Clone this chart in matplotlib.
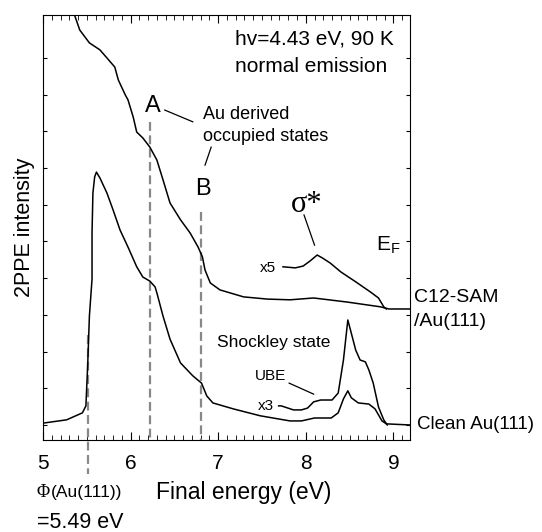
import matplotlib
matplotlib.use("Agg")
import matplotlib.pyplot as plt
from matplotlib.ticker import MultipleLocator

plt.rcParams['font.family'] = ['Liberation Sans', 'DejaVu Sans']

# C12-SAM/Au(111) spectrum
sam_x = [5.33, 5.36, 5.42, 5.53, 5.65, 5.73, 5.82, 5.86, 5.94, 5.97, 6.03, 6.07, 6.14,
         6.22, 6.30, 6.37, 6.45, 6.57, 6.68, 6.77, 6.82, 6.85, 6.91, 7.02, 7.29, 7.56,
         7.82, 8.09, 8.47, 8.85, 8.95, 9.19]
sam_y = [11.5, 11.17, 10.76, 10.41, 10.22, 10.00, 9.75, 9.40, 8.99, 8.86, 8.39, 7.98, 7.82,
         7.57, 7.22, 6.68, 6.05, 5.59, 5.23, 4.85, 4.58, 4.22, 3.87, 3.68, 3.49, 3.43,
         3.41, 3.46, 3.35, 3.22, 3.16, 3.16]

# x5 magnified part of SAM spectrum
x5_x = [7.74, 7.88, 7.97, 8.05, 8.13, 8.19, 8.28, 8.40, 8.57, 8.74, 8.83, 8.89, 8.92]
x5_y = [4.31, 4.28, 4.33, 4.47, 4.63, 4.55, 4.41, 4.17, 3.90, 3.62, 3.46, 3.22, 3.16]

# Clean Au(111) spectrum
au_x = [5.00, 5.27, 5.45, 5.49, 5.51, 5.53, 5.56, 5.56, 5.57, 5.59, 5.61, 5.65, 5.73,
        5.80, 5.88, 5.97, 6.07, 6.14, 6.22, 6.28, 6.30, 6.37, 6.45, 6.57, 6.71, 6.81,
        6.87, 6.94, 7.17, 7.48, 7.82, 7.95, 8.10, 8.29, 8.37, 8.43, 8.48, 8.52, 8.60,
        8.72, 8.79, 8.87, 8.92, 9.19]
au_y = [0.05, 0.14, 0.33, 0.52, 1.61, 2.97, 3.98, 5.23, 6.32, 6.76, 6.89, 6.73, 6.32,
        5.86, 5.31, 4.85, 4.31, 4.03, 3.92, 3.76, 3.60, 2.97, 2.34, 1.69, 1.34, 1.14,
        0.79, 0.60, 0.44, 0.25, 0.11, 0.11, 0.19, 0.19, 0.33, 0.71, 0.93, 0.74, 0.60,
        0.57, 0.44, 0.11, 0.03, 0.0]

# x3 magnified part of Au spectrum
x3_x = [7.69, 7.72, 7.86, 7.95, 8.02, 8.09, 8.17, 8.30, 8.37, 8.43, 8.48, 8.51, 8.57,
        8.62, 8.68, 8.72, 8.77, 8.83, 8.89, 8.93]
x3_y = [0.52, 0.52, 0.41, 0.41, 0.46, 0.63, 0.68, 0.68, 0.87, 1.77, 2.86, 2.59, 2.04,
        1.77, 1.72, 1.50, 1.14, 0.49, 0.14, 0.0]

# marker lines: (x, y top, y bottom)
marks = [(5.51, 2.45, -1.34), (6.22, 8.26, -0.41), (6.80, 5.80, -0.41)]

fig = plt.figure(figsize=(5.42, 5.32), dpi=100)
ax = fig.add_axes([0.0793, 0.1729, 0.6772, 0.7989])

for xm, yt, yb in marks:
    ax.plot([xm, xm], [yt, yb], color='#888888', lw=1.6, dashes=(4, 2), clip_on=False)

ax.plot(sam_x, sam_y, color='black', lw=1.1)
ax.plot(x5_x, x5_y, color='black', lw=1.1)
ax.plot(au_x, au_y, color='black', lw=1.1)
ax.plot(x3_x, x3_y, color='black', lw=1.1)

ax.set_xlim(5, 9.19)
ax.set_ylim(-0.41, 11.17)
ax.xaxis.set_major_locator(MultipleLocator(1))
ax.xaxis.set_minor_locator(MultipleLocator(0.1))
ax.set_yticks(range(0, 11))
ax.set_yticklabels([])
ax.tick_params(axis='both', which='both', direction='in', top=True, right=True)
ax.tick_params(axis='x', which='major', length=6, labelsize=15, pad=10)
ax.tick_params(axis='x', which='minor', length=3.5)
ax.tick_params(axis='y', which='major', length=3)
ax.set_ylabel('2PPE intensity', fontsize=15.5, labelpad=2)

# annotations
ax.text(7.195, 10.52, 'hv=4.43 eV, 90 K', fontsize=15, va='center')
ax.text(7.195, 9.78, 'normal emission', fontsize=15, va='center')
ax.text(6.256, 8.69, 'A', fontsize=17, ha='center', va='center')
ax.plot([6.39, 6.71], [8.58, 8.26], color='black', lw=0.9)
ax.text(6.83, 8.45, 'Au derived', fontsize=13, va='center')
ax.text(6.83, 7.85, 'occupied states', fontsize=13, va='center')
ax.plot([6.85, 6.92], [7.08, 7.57], color='black', lw=0.9)
ax.text(6.83, 6.43, 'B', fontsize=17, ha='center', va='center')
ax.text(8.005, 6.0, 'σ*', fontsize=22, ha='center', va='center',
        family=['Liberation Serif', 'DejaVu Serif'])
ax.plot([7.98, 8.10], [5.72, 4.90], color='black', lw=0.9)
ax.text(8.807, 4.90, r'E$_\mathregular{F}$', fontsize=15, va='center')
ax.text(7.48, 4.28, 'x5', fontsize=11, va='center')
ax.text(6.987, 2.26, 'Shockley state', fontsize=12.5, va='center')
ax.text(7.42, 1.34, 'UBE', fontsize=11, va='center')
ax.plot([7.81, 8.09], [1.14, 0.84], color='black', lw=0.9)
ax.text(7.457, 0.52, 'x3', fontsize=11, va='center')

ax.text(9.24, 3.46, 'C12-SAM', fontsize=14, va='center', clip_on=False)
ax.text(9.24, 2.83, '/Au(111)', fontsize=14, va='center', clip_on=False)
ax.text(9.264, 0.0, 'Clean Au(111)', fontsize=13.5, va='center', clip_on=False)

ax.text(4.928, -1.85, 'Φ', fontsize=13, va='center', clip_on=False,
        family=['Liberation Serif', 'DejaVu Serif'])
ax.text(5.085, -1.85, '(Au(111))', fontsize=12.5, va='center', clip_on=False)
ax.text(4.928, -2.67, '=5.49 eV', fontsize=15.5, va='center', clip_on=False)
ax.text(7.286, -1.85, 'Final energy (eV)', fontsize=16.5, ha='center', va='center',
        clip_on=False)

fig.savefig('out.png', dpi=100)
